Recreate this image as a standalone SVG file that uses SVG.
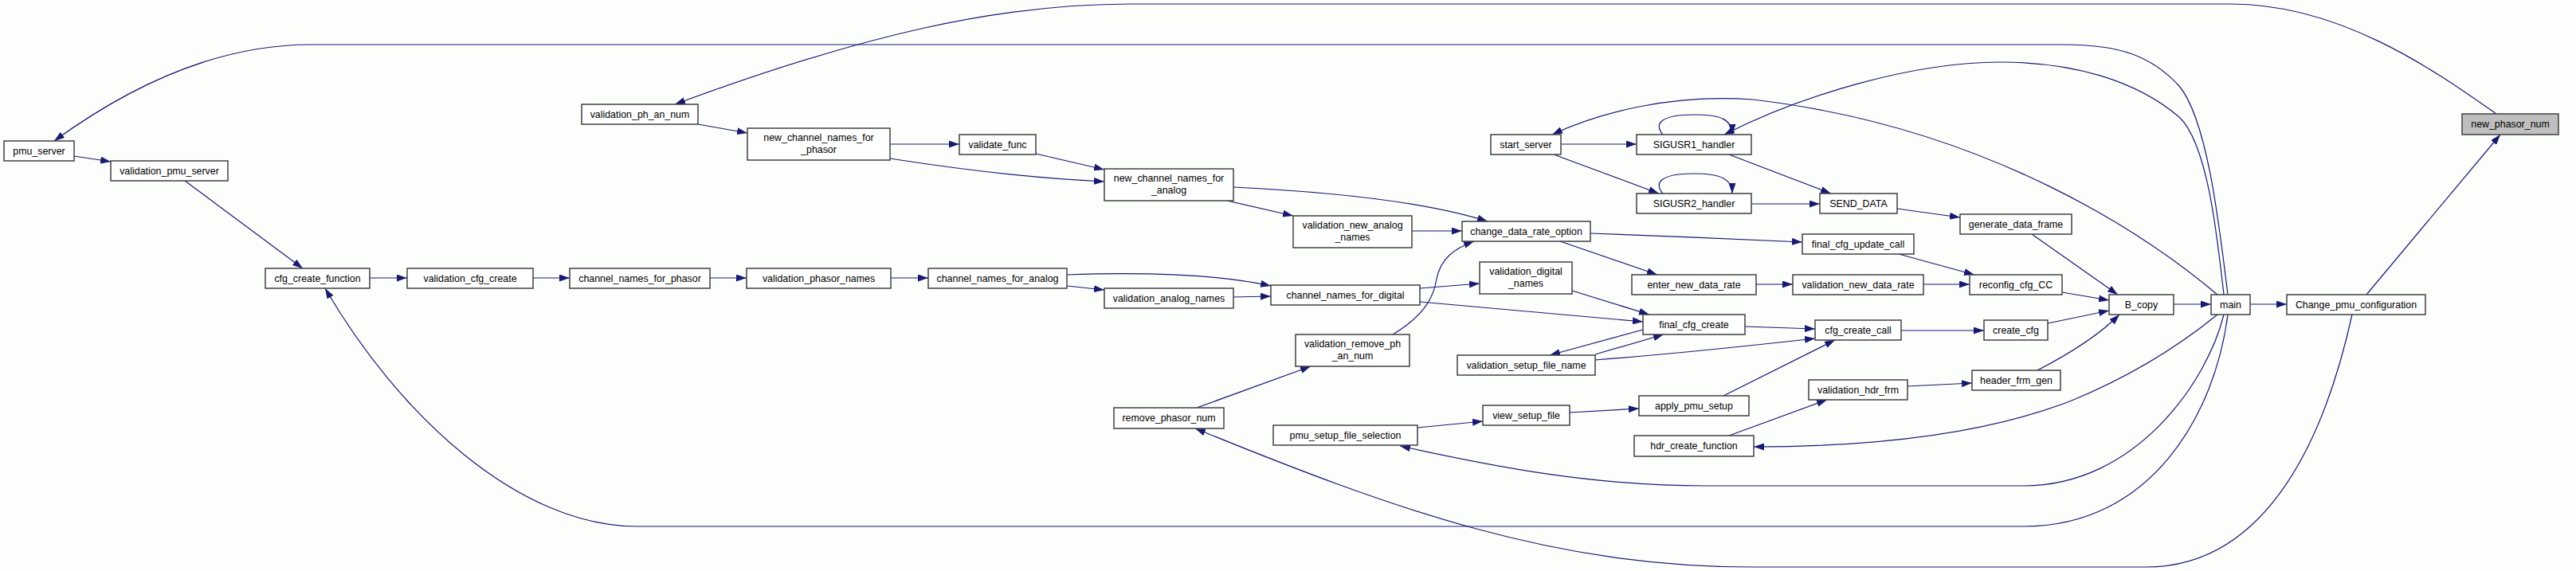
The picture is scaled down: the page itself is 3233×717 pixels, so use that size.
<svg xmlns="http://www.w3.org/2000/svg" width="3233" height="717" viewBox="0 0 3233 717">
<defs>
<marker id="ah" viewBox="0 0 13 9" refX="13" refY="4.5" markerWidth="13" markerHeight="9" markerUnits="userSpaceOnUse" orient="auto"><path d="M0,0 L13,4.5 L0,9 z" fill="#191970"/></marker>
<style>
.n rect{fill:#ffffff;stroke:#404040;stroke-width:1.5}
.n.hl rect{fill:#bfbfbf}
.n text{font-family:"Liberation Sans",Arial,sans-serif;font-size:12.4px;fill:#000;text-anchor:middle}
#edges path{fill:none;stroke:#191970;stroke-width:1.2;marker-end:url(#ah)}
</style>
</defs>
<rect width="3233" height="717" fill="#fcfefc"/>
<g id="edges">
<path d="M3133,143 C3060,92 2940,5 2800,5 L1420,5 C1250,5 1080,45 847,131"/>
<path d="M2796,370 C2785,280 2770,150 2735,108 C2700,70 2660,56 2590,56 L390,56 C270,56 160,110 68,177"/>
<path d="M2791,370 C2782,290 2770,180 2735,147 C2680,100 2600,78 2510,78 C2400,78 2260,120 2164,169"/>
<path d="M2783,370 C2700,300 2500,160 2200,125 C2100,118 2010,140 1948,169"/>
<path d="M2783,395 C2740,430 2680,470 2600,503 C2480,550 2330,561 2201,561"/>
<path d="M2791,395 C2770,480 2680,610 2540,610 L2140,610 C2000,610 1880,587 1757,560"/>
<path d="M2796,395 C2780,520 2700,661 2540,661 L800,661 C650,661 500,520 408,362"/>
<path d="M2952,395 C2920,540 2850,712 2693,712 L2200,712 C1950,712 1750,640 1500,538"/>
<path d="M2970,370 L3138,169"/>
<path d="M2087,169 C2075,155 2085,144 2126,144 C2160,144 2174,150 2174,169"/>
<path d="M2087,243 C2075,229 2085,218 2126,218 C2160,218 2174,225 2174,243"/>
<path d="M1959,181 L2054,181"/>
<path d="M1950,194 L2082,243"/>
<path d="M2170,194 L2298,243"/>
<path d="M2198,256 L2284,256"/>
<path d="M2381,262 L2460,273"/>
<path d="M2550,294 L2658,370"/>
<path d="M1996,293 C2080,296 2180,300 2262,304"/>
<path d="M1958,303 L2080,345"/>
<path d="M2204,357 L2250,357"/>
<path d="M2414,357 L2472,357"/>
<path d="M2383,319 L2478,345"/>
<path d="M2588,367 L2647,377"/>
<path d="M2570,406 L2647,390"/>
<path d="M2557,465 C2590,448 2630,425 2660,395"/>
<path d="M2728,382 L2775,382"/>
<path d="M2824,382 L2870,382"/>
<path d="M2386,415 L2490,415"/>
<path d="M2190,410 L2278,413"/>
<path d="M2002,452 C2080,446 2180,436 2278,425"/>
<path d="M2163,497 L2303,427"/>
<path d="M2394,485 L2475,481"/>
<path d="M2170,547 L2293,502"/>
<path d="M1970,518 L2057,513"/>
<path d="M1779,537 L1861,529"/>
<path d="M2062,414 L1945,446"/>
<path d="M2002,445 L2088,420"/>
<path d="M1782,379 L2062,404"/>
<path d="M1973,365 L2070,395"/>
<path d="M1782,362 L1857,356"/>
<path d="M1748,420 C1790,395 1800,370 1803,350 C1808,325 1825,312 1850,303"/>
<path d="M1502,512 L1645,460"/>
<path d="M1772,290 L1835,290"/>
<path d="M1548,235 C1650,240 1780,250 1867,278"/>
<path d="M1540,252 L1623,271"/>
<path d="M1117,181 L1204,181"/>
<path d="M1117,199 C1200,212 1300,224 1386,228"/>
<path d="M1300,193 L1386,213"/>
<path d="M876,156 L938,167"/>
<path d="M93,196 L139,203"/>
<path d="M232,227 L380,337"/>
<path d="M464,349 L511,349"/>
<path d="M669,349 L715,349"/>
<path d="M891,349 L937,349"/>
<path d="M1118,349 L1165,349"/>
<path d="M1339,345 C1420,342 1520,343 1595,359"/>
<path d="M1339,359 L1386,364"/>
<path d="M1548,373 L1595,372"/>
</g>
<g id="pmu_server" class="n"><rect x="5" y="177" width="88" height="25"/><text x="49" y="194">pmu_server</text></g>
<g id="validation_pmu_server" class="n"><rect x="139" y="202" width="147" height="25"/><text x="212.5" y="219">validation_pmu_server</text></g>
<g id="cfg_create_function" class="n"><rect x="333" y="337" width="131" height="25"/><text x="398.5" y="354">cfg_create_function</text></g>
<g id="validation_cfg_create" class="n"><rect x="511" y="337" width="158" height="25"/><text x="590" y="354">validation_cfg_create</text></g>
<g id="channel_names_for_phasor" class="n"><rect x="715" y="337" width="176" height="25"/><text x="803" y="354">channel_names_for_phasor</text></g>
<g id="validation_phasor_names" class="n"><rect x="937" y="337" width="181" height="25"/><text x="1027.5" y="354">validation_phasor_names</text></g>
<g id="channel_names_for_analog" class="n"><rect x="1165" y="337" width="174" height="25"/><text x="1252" y="354">channel_names_for_analog</text></g>
<g id="validation_analog_names" class="n"><rect x="1386" y="362" width="162" height="25"/><text x="1467" y="379">validation_analog_names</text></g>
<g id="channel_names_for_digital" class="n"><rect x="1595" y="358" width="187" height="25"/><text x="1688.5" y="375">channel_names_for_digital</text></g>
<g id="validation_ph_an_num" class="n"><rect x="730" y="131" width="146" height="25"/><text x="803" y="148">validation_ph_an_num</text></g>
<g id="new_channel_names_for_phasor" class="n"><rect x="938" y="161" width="179" height="40"/><text x="1027.5" y="177">new_channel_names_for</text><text x="1027.5" y="192">_phasor</text></g>
<g id="validate_func" class="n"><rect x="1204" y="169" width="96" height="25"/><text x="1252" y="186">validate_func</text></g>
<g id="new_channel_names_for_analog" class="n"><rect x="1386" y="212" width="162" height="40"/><text x="1467" y="228">new_channel_names_for</text><text x="1467" y="243">_analog</text></g>
<g id="validation_new_analog_names" class="n"><rect x="1623" y="271" width="149" height="40"/><text x="1697.5" y="287">validation_new_analog</text><text x="1697.5" y="302">_names</text></g>
<g id="change_data_rate_option" class="n"><rect x="1835" y="278" width="161" height="25"/><text x="1915.5" y="295">change_data_rate_option</text></g>
<g id="validation_digital_names" class="n"><rect x="1857" y="329" width="116" height="40"/><text x="1915" y="345">validation_digital</text><text x="1915" y="360">_names</text></g>
<g id="validation_remove_ph_an_num" class="n"><rect x="1626" y="420" width="143" height="40"/><text x="1697.5" y="436">validation_remove_ph</text><text x="1697.5" y="451">_an_num</text></g>
<g id="remove_phasor_num" class="n"><rect x="1398" y="512" width="138" height="26"/><text x="1467" y="529">remove_phasor_num</text></g>
<g id="pmu_setup_file_selection" class="n"><rect x="1598" y="534" width="181" height="25"/><text x="1688.5" y="551">pmu_setup_file_selection</text></g>
<g id="view_setup_file" class="n"><rect x="1861" y="509" width="109" height="25"/><text x="1915.5" y="526">view_setup_file</text></g>
<g id="validation_setup_file_name" class="n"><rect x="1829" y="446" width="173" height="25"/><text x="1915.5" y="463">validation_setup_file_name</text></g>
<g id="final_cfg_create" class="n"><rect x="2062" y="395" width="128" height="25"/><text x="2126" y="412">final_cfg_create</text></g>
<g id="start_server" class="n"><rect x="1871" y="169" width="88" height="25"/><text x="1915" y="186">start_server</text></g>
<g id="SIGUSR1_handler" class="n"><rect x="2054" y="169" width="144" height="25"/><text x="2126" y="186">SIGUSR1_handler</text></g>
<g id="SIGUSR2_handler" class="n"><rect x="2054" y="243" width="144" height="25"/><text x="2126" y="260">SIGUSR2_handler</text></g>
<g id="enter_new_data_rate" class="n"><rect x="2048" y="345" width="156" height="25"/><text x="2126" y="362">enter_new_data_rate</text></g>
<g id="SEND_DATA" class="n"><rect x="2284" y="243" width="97" height="25"/><text x="2332.5" y="260">SEND_DATA</text></g>
<g id="final_cfg_update_call" class="n"><rect x="2262" y="294" width="140" height="25"/><text x="2332" y="311">final_cfg_update_call</text></g>
<g id="validation_new_data_rate" class="n"><rect x="2250" y="345" width="164" height="25"/><text x="2332" y="362">validation_new_data_rate</text></g>
<g id="generate_data_frame" class="n"><rect x="2460" y="269" width="140" height="25"/><text x="2530" y="286">generate_data_frame</text></g>
<g id="reconfig_cfg_CC" class="n"><rect x="2472" y="345" width="116" height="25"/><text x="2530" y="362">reconfig_cfg_CC</text></g>
<g id="cfg_create_call" class="n"><rect x="2278" y="402" width="108" height="25"/><text x="2332" y="419">cfg_create_call</text></g>
<g id="create_cfg" class="n"><rect x="2490" y="402" width="80" height="25"/><text x="2530" y="419">create_cfg</text></g>
<g id="apply_pmu_setup" class="n"><rect x="2057" y="497" width="138" height="25"/><text x="2126" y="514">apply_pmu_setup</text></g>
<g id="validation_hdr_frm" class="n"><rect x="2270" y="477" width="124" height="25"/><text x="2332" y="494">validation_hdr_frm</text></g>
<g id="header_frm_gen" class="n"><rect x="2475" y="465" width="111" height="25"/><text x="2530.5" y="482">header_frm_gen</text></g>
<g id="hdr_create_function" class="n"><rect x="2051" y="547" width="150" height="26"/><text x="2126" y="564">hdr_create_function</text></g>
<g id="B_copy" class="n"><rect x="2647" y="370" width="81" height="25"/><text x="2687.5" y="387">B_copy</text></g>
<g id="main" class="n"><rect x="2775" y="370" width="49" height="25"/><text x="2799.5" y="387">main</text></g>
<g id="Change_pmu_configuration" class="n"><rect x="2870" y="370" width="174" height="25"/><text x="2957" y="387">Change_pmu_configuration</text></g>
<g id="new_phasor_num" class="n hl"><rect x="3090" y="143" width="121" height="26"/><text x="3150.5" y="160">new_phasor_num</text></g>
</svg>
